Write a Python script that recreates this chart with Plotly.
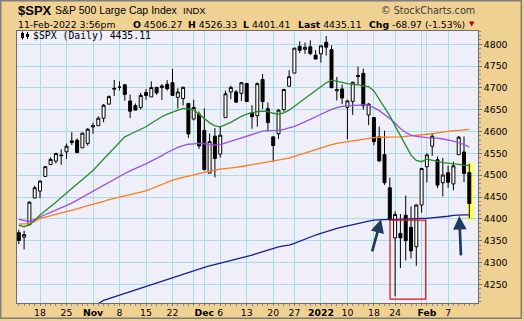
import plotly.graph_objects as go

# ---------------- data ----------------
dates = [
    "2021-10-12", "2021-10-13", "2021-10-14", "2021-10-15",
    "2021-10-18", "2021-10-19", "2021-10-20", "2021-10-21", "2021-10-22",
    "2021-10-25", "2021-10-26", "2021-10-27", "2021-10-28", "2021-10-29",
    "2021-11-01", "2021-11-02", "2021-11-03", "2021-11-04", "2021-11-05",
    "2021-11-08", "2021-11-09", "2021-11-10", "2021-11-11", "2021-11-12",
    "2021-11-15", "2021-11-16", "2021-11-17", "2021-11-18", "2021-11-19",
    "2021-11-22", "2021-11-23", "2021-11-24", "2021-11-26",
    "2021-11-29", "2021-11-30", "2021-12-01", "2021-12-02", "2021-12-03",
    "2021-12-06", "2021-12-07", "2021-12-08", "2021-12-09", "2021-12-10",
    "2021-12-13", "2021-12-14", "2021-12-15", "2021-12-16", "2021-12-17",
    "2021-12-20", "2021-12-21", "2021-12-22", "2021-12-23",
    "2021-12-27", "2021-12-28", "2021-12-29", "2021-12-30", "2021-12-31",
    "2022-01-03", "2022-01-04", "2022-01-05", "2022-01-06", "2022-01-07",
    "2022-01-10", "2022-01-11", "2022-01-12", "2022-01-13", "2022-01-14",
    "2022-01-18", "2022-01-19", "2022-01-20", "2022-01-21",
    "2022-01-24", "2022-01-25", "2022-01-26", "2022-01-27", "2022-01-28",
    "2022-01-31", "2022-02-01", "2022-02-02", "2022-02-03", "2022-02-04",
    "2022-02-07", "2022-02-08", "2022-02-09", "2022-02-10", "2022-02-11",
]

opens = [
    4368.31, 4358.01, 4386.75, 4447.69,
    4463.72, 4497.34, 4524.42, 4532.24, 4546.12,
    4553.69, 4578.69, 4580.22, 4562.84, 4572.87,
    4610.62, 4613.34, 4630.65, 4662.93, 4699.26,
    4701.48, 4707.25, 4670.26, 4659.39, 4655.24,
    4689.30, 4679.42, 4701.50, 4700.72, 4708.44,
    4712.00, 4678.48, 4675.78, 4664.63,
    4628.75, 4640.25, 4602.82, 4504.73, 4589.49,
    4548.37, 4631.97, 4690.86, 4691.00, 4687.64,
    4710.30, 4642.99, 4636.46, 4719.13, 4652.50,
    4587.90, 4594.96, 4650.36, 4703.96,
    4733.99, 4795.49, 4788.64, 4794.23, 4775.21,
    4778.14, 4804.51, 4787.99, 4693.39, 4697.66,
    4655.34, 4669.14, 4728.59, 4733.56, 4637.99,
    4632.24, 4588.03, 4547.35, 4471.38,
    4356.32, 4366.64, 4408.43, 4380.58, 4336.19,
    4431.79, 4519.57, 4566.39, 4535.41, 4482.79,
    4505.75, 4480.02, 4547.00, 4553.24, 4506.27,
]
highs = [
    4374.89, 4372.87, 4439.73, 4475.82,
    4488.75, 4520.40, 4540.87, 4551.44, 4559.67,
    4572.62, 4598.53, 4584.57, 4597.55, 4608.08,
    4620.34, 4635.15, 4663.46, 4683.00, 4718.50,
    4714.92, 4708.53, 4684.85, 4664.55, 4688.47,
    4697.42, 4714.95, 4701.50, 4708.80, 4717.75,
    4743.83, 4699.39, 4702.87, 4664.63,
    4672.95, 4646.02, 4652.94, 4595.46, 4608.03,
    4612.60, 4694.04, 4705.06, 4695.26, 4713.57,
    4710.30, 4660.47, 4712.60, 4731.99, 4666.70,
    4587.90, 4651.14, 4697.67, 4740.74,
    4791.49, 4807.02, 4804.06, 4808.93, 4786.83,
    4796.64, 4818.62, 4797.70, 4725.01, 4707.95,
    4673.02, 4714.13, 4748.83, 4744.13, 4665.13,
    4632.24, 4611.55, 4602.11, 4494.52,
    4417.35, 4411.01, 4453.23, 4428.74, 4432.72,
    4516.89, 4550.49, 4595.31, 4542.88, 4539.66,
    4521.86, 4531.32, 4590.03, 4588.92, 4526.33,
]
lows = [
    4342.09, 4329.92, 4386.75, 4447.69,
    4447.47, 4496.41, 4524.40, 4526.89, 4524.00,
    4537.36, 4569.17, 4551.66, 4562.84, 4567.59,
    4595.06, 4613.34, 4621.19, 4662.59, 4681.32,
    4694.39, 4670.87, 4630.86, 4648.31, 4650.77,
    4672.86, 4679.42, 4684.41, 4672.78, 4694.22,
    4682.17, 4652.66, 4659.89, 4585.43,
    4625.26, 4560.00, 4510.27, 4504.73, 4495.12,
    4540.51, 4631.97, 4674.52, 4665.98, 4670.24,
    4667.60, 4606.52, 4611.22, 4651.89, 4600.22,
    4531.10, 4583.16, 4645.53, 4703.96,
    4733.99, 4780.04, 4778.08, 4775.33, 4765.75,
    4758.17, 4774.27, 4699.44, 4671.26, 4662.74,
    4582.24, 4638.27, 4706.71, 4650.29, 4614.75,
    4568.70, 4530.20, 4477.95, 4395.34,
    4222.62, 4287.11, 4304.80, 4309.50, 4292.46,
    4414.02, 4483.53, 4544.32, 4470.39, 4451.50,
    4471.47, 4465.40, 4547.00, 4484.31, 4401.41,
]
closes = [
    4350.65, 4363.80, 4438.26, 4471.37,
    4486.46, 4519.63, 4536.19, 4549.78, 4544.90,
    4566.48, 4574.79, 4551.68, 4596.42, 4605.38,
    4613.67, 4630.65, 4660.57, 4680.06, 4697.53,
    4701.70, 4685.25, 4646.71, 4649.27, 4682.85,
    4682.80, 4700.90, 4688.67, 4704.54, 4697.96,
    4682.94, 4690.70, 4701.46, 4594.62,
    4655.27, 4567.00, 4513.04, 4577.10, 4538.43,
    4591.67, 4686.75, 4701.21, 4667.45, 4712.02,
    4668.97, 4634.09, 4709.85, 4668.67, 4620.64,
    4568.02, 4649.23, 4696.56, 4725.79,
    4791.19, 4786.35, 4793.06, 4778.73, 4766.18,
    4796.56, 4793.54, 4700.58, 4696.05, 4677.03,
    4670.29, 4713.07, 4726.35, 4659.03, 4662.85,
    4577.11, 4532.76, 4482.73, 4397.94,
    4410.13, 4356.45, 4349.93, 4326.51, 4431.85,
    4515.55, 4546.54, 4589.38, 4477.44, 4500.53,
    4483.87, 4521.54, 4587.18, 4504.08, 4435.11,
]

# moving averages (one value per trading day)
ma_green = [
    4385, 4382, 4386, 4396, 4409, 4418, 4428, 4438, 4449, 4459,
    4469, 4479, 4490, 4500, 4511, 4524, 4537, 4550, 4562, 4575,
    4588, 4594, 4600, 4606, 4611, 4619, 4627, 4634, 4640, 4644,
    4648, 4653, 4652, 4649, 4640, 4630, 4620, 4613, 4611, 4616,
    4621, 4628, 4635, 4640, 4643, 4646, 4647, 4646, 4642, 4640,
    4643, 4649, 4658, 4667, 4677, 4687, 4696, 4705, 4712, 4718,
    4716, 4713, 4710, 4709, 4707, 4705, 4703, 4693, 4675, 4656,
    4636, 4613, 4590, 4566, 4546, 4534, 4531, 4537, 4535, 4532,
    4529, 4528, 4527, 4525, 4523, 4522,
]
ma_purple = [
    4399, 4396, 4394, 4399, 4405, 4410, 4415, 4420, 4425, 4430,
    4436, 4443, 4450, 4456, 4462, 4469, 4476, 4483, 4490, 4497,
    4504, 4510, 4516, 4521, 4526, 4532, 4538, 4545, 4552, 4558,
    4564, 4568, 4571, 4572, 4573, 4572, 4570, 4569, 4570, 4574,
    4578, 4582, 4586, 4590, 4594, 4598, 4601, 4602, 4602, 4603,
    4605, 4608, 4612, 4617, 4622, 4628, 4634, 4640, 4645, 4651,
    4655, 4658, 4659, 4660, 4661, 4661, 4660, 4655, 4648, 4640,
    4630, 4619, 4607, 4598, 4592, 4589, 4587, 4586, 4585, 4585,
    4583, 4581, 4578, 4575, 4570, 4565,
]
ma_orange = [
    4388, 4388, 4389, 4394, 4401, 4404, 4407, 4410, 4413, 4416,
    4420, 4423, 4427, 4430, 4433, 4437, 4440, 4444, 4447, 4450,
    4453, 4456, 4459, 4462, 4464, 4469, 4474, 4479, 4484, 4489,
    4492, 4495, 4498, 4501, 4504, 4507, 4509, 4512, 4514, 4515,
    4517, 4518, 4520, 4522, 4524, 4526, 4528, 4530, 4532, 4534,
    4536, 4539, 4543, 4547, 4551, 4555, 4559, 4563, 4567, 4570,
    4573, 4575, 4576, 4578, 4580, 4582, 4584, 4586, 4587, 4587,
    4588, 4588, 4588, 4589, 4590, 4591, 4592, 4593, 4595, 4597,
    4599, 4600, 4602, 4603, 4604, 4605,
]
ma_navy = [
    None, None, None, None, None, None, None, None, None, None,
    None, None, None, None, 4202, 4206, 4213, 4217, 4221, 4225,
    4229, 4234, 4238, 4242, 4246, 4250, 4254, 4258, 4262, 4266,
    4270, 4274, 4277, 4281, 4285, 4289, 4292, 4295, 4298, 4301,
    4304, 4307, 4310, 4313, 4317, 4321, 4325, 4329, 4333, 4336,
    4338, 4340, 4344, 4349, 4354, 4359, 4363, 4367, 4371, 4375,
    4378, 4381, 4384, 4387, 4390, 4393, 4395, 4397, 4398, 4399,
    4399, 4399, 4400, 4400, 4400, 4401, 4401, 4401, 4402, 4403,
    4404, 4406, 4408, 4409, 4409, 4409,
]

tick_dates = ["2021-10-18", "2021-10-25", "2021-11-01", "2021-11-08", "2021-11-15",
              "2021-11-22", "2021-11-29", "2021-12-01", "2021-12-06", "2021-12-13",
              "2021-12-20", "2021-12-27", "2022-01-03", "2022-01-10", "2022-01-18",
              "2022-01-24", "2022-01-31", "2022-02-01", "2022-02-07"]
tick_labels = ["18", "25", "<b>Nov</b>", "8", "15", "22", "", "<b>Dec</b>", "6", "13",
               "20", "27", "<b>2022</b>", "10", "18", "24", "", "<b>Feb</b>", "7"]
y_ticks = [4250, 4300, 4350, 4400, 4450, 4500, 4550, 4600, 4650, 4700, 4750, 4800]

# ---------------- figure ----------------
xpos = list(range(len(dates)))
tickpos = [dates.index(d) for d in tick_dates]

W, H = 524, 321
ML, MR, MT, MB = 17, 46, 31, 18
PW, PH = W - ML - MR, H - MT - MB


def pxx(px):
    return (px - ML) / PW


def pxy(py):
    return (H - MB - py) / PH


FONT = "DejaVu Sans"
TAN = "#f0d194"

fig = go.Figure()

ma_styles = [(ma_navy, "#1c1c96"), (ma_orange, "#ff7a1c"),
             (ma_purple, "#9b4fe6"), (ma_green, "#2a8a2a")]
for vals, col in ma_styles:
    fig.add_trace(go.Scatter(x=xpos, y=vals, mode="lines",
                             line=dict(color=col, width=1.3),
                             hoverinfo="skip", connectgaps=False))

fig.add_trace(go.Candlestick(
    x=xpos, open=opens, high=highs, low=lows, close=closes,
    increasing=dict(line=dict(color="black", width=1), fillcolor="white"),
    decreasing=dict(line=dict(color="black", width=1), fillcolor="black"),
    whiskerwidth=0,
))

last = len(dates) - 1
shapes = [
    # yellow highlight on the last bar
    dict(type="rect", xref="x", yref="y", x0=last - 0.38, x1=last + 0.89,
         y0=lows[last] - 6, y1=highs[last] + 2, fillcolor="#ffff5a",
         line=dict(width=0), layer="below"),
    # red box around the late-January lows
    dict(type="rect", xref="x", yref="y", x0=70.04, x1=76.77, y0=4216.3, y1=4397.3,
         line=dict(color="#e01010", width=1.2), fillcolor="rgba(0,0,0,0)"),
    # outer border of the image
    dict(type="rect", xref="paper", yref="paper", x0=pxx(0.7), x1=pxx(521.3),
         y0=pxy(318.3), y1=pxy(0.7), line=dict(color="#7d7d7d", width=1.5)),
    # small candle icon of the legend
    dict(type="line", xref="paper", yref="paper", x0=pxx(22.5), x1=pxx(22.5),
         y0=pxy(39.5), y1=pxy(31.5), line=dict(color="black", width=1)),
    dict(type="rect", xref="paper", yref="paper", x0=pxx(21), x1=pxx(24),
         y0=pxy(38), y1=pxy(33), fillcolor="black", line=dict(width=0)),
    dict(type="line", xref="paper", yref="paper", x0=pxx(27.5), x1=pxx(27.5),
         y0=pxy(39), y1=pxy(32), line=dict(color="black", width=1)),
    dict(type="rect", xref="paper", yref="paper", x0=pxx(26), x1=pxx(29),
         y0=pxy(37), y1=pxy(34), fillcolor="black", line=dict(width=0)),
]

annotations = []


def txt(text, px, py, size, anchor="left", family=FONT, color="black"):
    annotations.append(dict(text=text, x=pxx(px), y=pxy(py), xref="paper", yref="paper",
                            xanchor=anchor, yanchor="middle", showarrow=False,
                            font=dict(family=family, size=size, color=color)))


txt("<b>$SPX</b>", 16, 10.5, 13, family="Liberation Sans")
txt("S&P 500 Large Cap Index", 53, 10.5, 10.5, family="Liberation Sans")
txt("INDX", 181, 10.8, 9.5, family="Liberation Sans")
txt("© StockCharts.com", 477, 10.5, 9.6, anchor="right", color="#3a3a3a")
txt("11-Feb-2022 3:56pm", 16, 24, 9.3)
txt("<b>O</b> 4506.27", 130.5, 24, 9.3)
txt("<b>H</b> 4526.33", 185.5, 24, 9.3)
txt("<b>L</b> 4401.41", 241, 24, 9.3)
txt("<b>Last</b> 4435.11", 295.5, 24, 9.3)
txt("<b>Chg</b> -68.97 (-1.53%)", 367, 24, 9.3)
txt("▼", 471.5, 24.5, 7, anchor="center", color="#b00000")
txt("$SPX (Daily) 4435.11", 31, 35.5, 9.8, family="DejaVu Sans Mono")

ARROW = "#1f3b5e"
for (tx, ty, hx, hy) in [(66.59, 4322, 68.34, 4399), (83.43, 4313, 83.11, 4406.5)]:
    annotations.append(dict(x=hx, y=hy, ax=tx, ay=ty, xref="x", yref="y",
                            axref="x", ayref="y", text="", showarrow=True,
                            arrowhead=2, arrowsize=1.0, arrowwidth=2.7,
                            arrowcolor=ARROW, standoff=0))

fig.update_layout(
    width=W, height=H,
    margin=dict(l=ML, r=MR, t=MT, b=MB, pad=0, autoexpand=False),
    paper_bgcolor=TAN, plot_bgcolor="#eeeff8",
    showlegend=False, boxgap=0.2,
    shapes=shapes, annotations=annotations,
    xaxis=dict(range=[-0.34, 86.64], tickmode="array", tickvals=tickpos,
               ticktext=tick_labels, showgrid=True, gridcolor="#abdbe8", gridwidth=1,
               zeroline=False, showline=True, linecolor="#6e6e6e", linewidth=1,
               mirror=True, ticks="outside", ticklen=1, tickcolor="#6e6e6e",
               automargin=False,
               tickfont=dict(family=FONT, size=9.3, color="black"),
               rangeslider=dict(visible=False), fixedrange=True,
               minor=dict(tick0=0, dtick=1, ticks="outside", ticklen=2,
                          tickcolor="#8a8a8a", showgrid=False)),
    yaxis=dict(range=[4207.2, 4830.5], side="right", tickmode="array",
               tickvals=y_ticks, showgrid=True, gridcolor="#abdbe8", gridwidth=1,
               zeroline=False, showline=True, linecolor="#6e6e6e", linewidth=1,
               mirror=True, ticks="outside", ticklen=3, tickcolor="#6e6e6e",
               automargin=False,
               tickfont=dict(family=FONT, size=9.3, color="black"), fixedrange=True,
               minor=dict(tick0=4200, dtick=10, ticks="outside", ticklen=2,
                          tickcolor="#8a8a8a", showgrid=False)),
)

fig.write_html("out.html")
